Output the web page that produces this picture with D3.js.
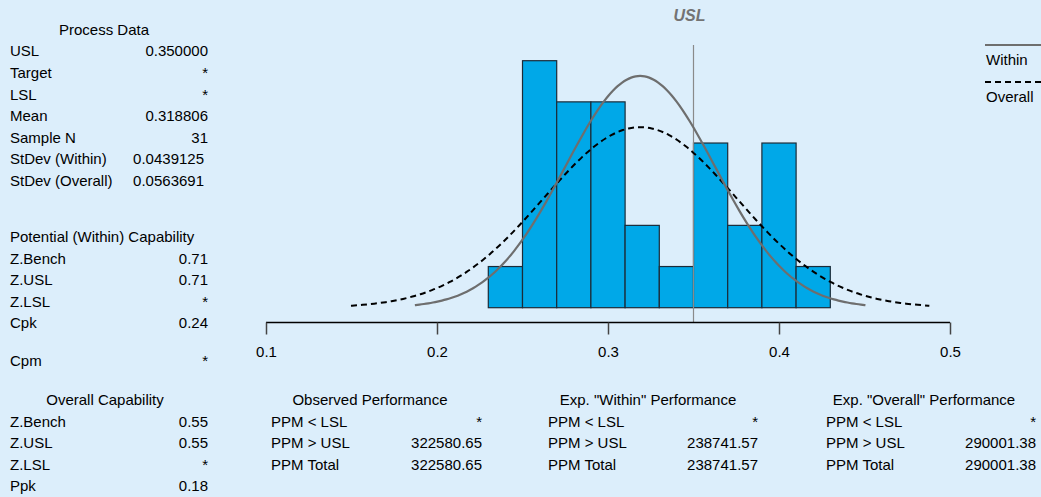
<!DOCTYPE html>
<html><head><meta charset="utf-8">
<script src="https://cdn.jsdelivr.net/npm/d3@7"></script>
<style>
html,body{margin:0;padding:0;background:#dceefb;}
svg{display:block;font-family:"Liberation Sans",Arial,sans-serif;}
</style></head>
<body>
<svg id="c" width="1041" height="497"></svg>
<script>
// ---- data ----
const binStarts = [0.23,0.25,0.27,0.29,0.31,0.33,0.35,0.37,0.39,0.41];
const binWidth = 0.02;
const counts = [1,6,5,5,2,1,4,2,4,1];
const xTicks = [0.1,0.2,0.3,0.4,0.5];
const usl = 0.35;
const mean = 0.318806;
const sampleN = 31;
const sdWithin = 0.0439125;
const sdOverall = 0.0563691;

const processLabels = ["USL","Target","LSL","Mean","Sample N","StDev (Within)","StDev (Overall)"];
const processValues = ["0.350000","*","*","0.318806","31","0.0439125","0.0563691"];
const potentialLabels = ["Z.Bench","Z.USL","Z.LSL","Cpk","Cpm"];
const potentialValues = ["0.71","0.71","*","0.24","*"];
const overallLabels = ["Z.Bench","Z.USL","Z.LSL","Ppk"];
const overallValues = ["0.55","0.55","*","0.18"];
const ppmLabels = ["PPM < LSL","PPM > USL","PPM Total"];
const observedValues = ["*","322580.65","322580.65"];
const expWithinValues = ["*","238741.57","238741.57"];
const expOverallValues = ["*","290001.38","290001.38"];

const FS = 15;

// ---- chart ----
const svg = d3.select("#c");
svg.append("rect").attr("width",1041).attr("height",497).attr("fill","#dceefb");

const x = d3.scaleLinear().domain([0.1,0.5]).range([266,950]);
const y = d3.scaleLinear().domain([0,6]).range([307.7,60.7]);

// bars
svg.append("g").selectAll("rect").data(binStarts).join("rect")
  .attr("x",d=>x(d)).attr("width",d=>x(d+binWidth)-x(d))
  .attr("y",(d,i)=>y(counts[i])).attr("height",(d,i)=>y(0)-y(counts[i]))
  .attr("fill","#00a8e8").attr("stroke","#1b2b38").attr("stroke-width",1.2);

// normal curves (fitted from the stated mean / stdev), scaled to counts
function curve(sd){
  const lo = mean-3*sd, hi = mean+3*sd;
  return d3.range(0,101).map(i=>{
    const v = lo + (hi-lo)*i/100;
    const pdf = Math.exp(-0.5*((v-mean)/sd)**2)/(sd*Math.sqrt(2*Math.PI));
    return [v, pdf*sampleN*binWidth];
  });
}
const line = d3.line().x(d=>x(d[0])).y(d=>y(d[1])).curve(d3.curveBasis);

// USL line
svg.append("line").attr("x1",x(usl)).attr("x2",x(usl)).attr("y1",45).attr("y2",322.5)
  .attr("stroke","#8a8a8a").attr("stroke-width",1.2);
svg.append("text").attr("x",x(usl)-4).attr("y",21).attr("text-anchor","middle")
  .attr("font-size",16).attr("font-weight","bold").attr("font-style","italic")
  .attr("fill","#737373").text("USL");

svg.append("path").attr("d",line(curve(sdOverall))).attr("fill","none")
  .attr("stroke","#000").attr("stroke-width",2).attr("stroke-dasharray","6,4");
svg.append("path").attr("d",line(curve(sdWithin))).attr("fill","none")
  .attr("stroke","#6e6e6e").attr("stroke-width",2.2);

// axis
const axis = d3.axisBottom(x).tickValues(xTicks).tickFormat(d3.format(".1f")).tickSize(12).tickPadding(12);
const ag = svg.append("g").attr("transform","translate(0,322.5)").call(axis);
ag.select(".domain").attr("stroke","#000").attr("stroke-width",1.5).attr("d","M266,0H950");
ag.selectAll(".tick line").attr("stroke","#444").attr("stroke-width",1.5);
ag.selectAll(".tick text").attr("font-size",FS).attr("fill","#000")
  .attr("font-family","'Liberation Sans',Arial,sans-serif");

// legend
svg.append("line").attr("x1",985).attr("x2",1041).attr("y1",45).attr("y2",45)
  .attr("stroke","#6e6e6e").attr("stroke-width",2.2);
svg.append("text").attr("x",986).attr("y",65).attr("font-size",FS).text("Within");
svg.append("line").attr("x1",985).attr("x2",1041).attr("y1",82).attr("y2",82)
  .attr("stroke","#000").attr("stroke-width",2).attr("stroke-dasharray","6,4");
svg.append("text").attr("x",986).attr("y",102).attr("font-size",FS).text("Overall");

// text panels
function header(t,cx,yy,anchor){
  svg.append("text").attr("x",cx).attr("y",yy).attr("text-anchor",anchor||"middle")
    .attr("font-size",FS).attr("fill","#000").text(t);
}
function rows(labels,values,lx,vx,ys){
  labels.forEach((l,i)=>{
    svg.append("text").attr("x",lx).attr("y",ys[i]).attr("font-size",FS).text(l);
    const vxx = Array.isArray(vx)?vx[i]:vx;
    svg.append("text").attr("x",vxx).attr("y",ys[i]).attr("text-anchor","end")
      .attr("font-size",FS).text(values[i]);
  });
}
header("Process Data",104,35);
rows(processLabels,processValues,10,[208,208,208,208,208,204,204],[56,78,100,121,143,164,186]);

header("Potential (Within) Capability",10,242,"start");
rows(potentialLabels,potentialValues,10,208,[264,285,307,328,366]);

header("Overall Capability",105,405);
rows(overallLabels,overallValues,10,208,[427,448,470,491]);

header("Observed Performance",370,405);
rows(ppmLabels,observedValues,271,482,[427,448,470]);

header('Exp. "Within" Performance',648,405);
rows(ppmLabels,expWithinValues,548,758,[427,448,470]);

header('Exp. "Overall" Performance',924,405);
rows(ppmLabels,expOverallValues,826,1036,[427,448,470]);
</script>
</body></html>
